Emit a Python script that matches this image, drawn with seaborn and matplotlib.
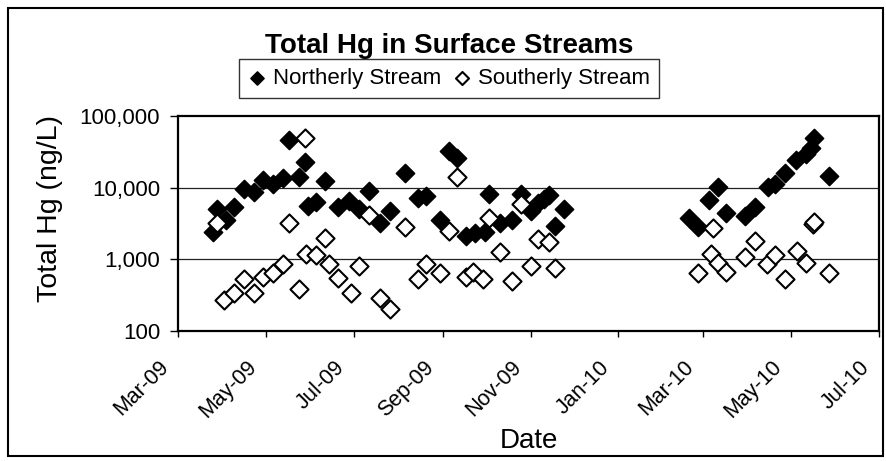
import matplotlib
matplotlib.use("Agg")
import matplotlib.pyplot as plt
import matplotlib.dates as mdates
from matplotlib.ticker import FixedLocator, FuncFormatter, NullLocator
from matplotlib.patches import Rectangle
from matplotlib.transforms import ScaledTranslation
import seaborn as sns
import pandas as pd

# Sampling dates and total mercury concentrations (ng/L)
north_dates = [
    "2009-03-25", "2009-03-28", "2009-04-03", "2009-04-09", "2009-04-16",
    "2009-04-23", "2009-04-29", "2009-05-06", "2009-05-13", "2009-05-17",
    "2009-05-24", "2009-05-28", "2009-05-30", "2009-06-05", "2009-06-11",
    "2009-06-20", "2009-06-28", "2009-07-05", "2009-07-12", "2009-07-19",
    "2009-07-26", "2009-08-06", "2009-08-15", "2009-08-20", "2009-08-30",
    "2009-09-05", "2009-09-11", "2009-09-17", "2009-09-23", "2009-09-30",
    "2009-10-03", "2009-10-11", "2009-10-19", "2009-10-25", "2009-11-01",
    "2009-11-06", "2009-11-10", "2009-11-14", "2009-11-18", "2009-11-24",
    "2010-02-19", "2010-02-25", "2010-03-05", "2010-03-11", "2010-03-17",
    "2010-03-30", "2010-04-06", "2010-04-15", "2010-04-20", "2010-04-27",
    "2010-05-04", "2010-05-11", "2010-05-15", "2010-05-17", "2010-05-27",
]
north_hg = [
    2400, 5000, 3500, 5400, 9700,
    8700, 13000, 11100, 13700, 46000,
    14200, 22700, 5500, 6300, 12200,
    5400, 6500, 5100, 9000, 3200,
    4700, 16100, 7200, 7600, 3500,
    32400, 25900, 2100, 2300, 2400,
    8100, 3200, 3500, 8200, 4700,
    6100, 6900, 8000, 2900, 5100,
    3800, 2800, 6800, 10100, 4500,
    4000, 5400, 10100, 11400, 16100,
    24500, 29600, 35700, 49600, 14500,
]

south_dates = [
    "2009-03-28", "2009-04-02", "2009-04-09", "2009-04-16", "2009-04-23",
    "2009-04-29", "2009-05-06", "2009-05-13", "2009-05-17", "2009-05-24",
    "2009-05-28", "2009-05-29", "2009-06-05", "2009-06-11", "2009-06-14",
    "2009-06-20", "2009-06-29", "2009-07-05", "2009-07-12", "2009-07-19",
    "2009-07-26", "2009-08-06", "2009-08-15", "2009-08-20", "2009-08-30",
    "2009-09-05", "2009-09-11", "2009-09-17", "2009-09-22", "2009-09-29",
    "2009-10-03", "2009-10-11", "2009-10-19", "2009-10-25", "2009-11-01",
    "2009-11-06", "2009-11-14", "2009-11-18",
    "2010-02-25", "2010-03-06", "2010-03-08", "2010-03-11", "2010-03-17",
    "2010-03-30", "2010-04-06", "2010-04-14", "2010-04-20", "2010-04-27",
    "2010-05-05", "2010-05-11", "2010-05-16", "2010-05-17", "2010-05-27",
]
south_hg = [
    3200, 270, 340, 540, 340,
    570, 640, 850, 3200, 380,
    49000, 1200, 1140, 2000, 850,
    550, 340, 810, 4200, 290,
    205, 2850, 530, 850, 640,
    2500, 14000, 560, 670, 530,
    3800, 1260, 500, 6000, 810,
    1900, 1740, 760,
    640, 1180, 2700, 900, 670,
    1090, 1800, 870, 1160, 530,
    1290, 900, 3100, 3300, 640,
]

series_names = ["Northerly Stream", "Southerly Stream"]
y_ticks = [100, 1000, 10000, 100000]
x_start, x_end = "2009-03-01", "2010-07-01"

north = pd.DataFrame({"date": pd.to_datetime(north_dates), "hg": north_hg})
south = pd.DataFrame({"date": pd.to_datetime(south_dates), "hg": south_hg})

sns.set_theme(style="white")
plt.rcParams["font.family"] = ["Liberation Sans", "DejaVu Sans"]
plt.rcParams.update({"text.color": "black", "axes.labelcolor": "black",
                     "xtick.color": "black", "ytick.color": "black"})

fig = plt.figure(figsize=(8.86, 4.61), dpi=100)
ax = fig.add_axes([178 / 886, 1 - 331 / 461, 701 / 886, 215 / 461])

marker_size = 85
sns.scatterplot(data=north, x="date", y="hg", ax=ax, marker="D", s=marker_size,
                color="black", edgecolor="black", linewidth=1.2, zorder=3,
                label=series_names[0], legend=False)
sns.scatterplot(data=south, x="date", y="hg", ax=ax, marker="D", s=marker_size,
                color="white", edgecolor="black", linewidth=1.5, zorder=3,
                label=series_names[1], legend=False)

ax.set_yscale("log")
ax.set_ylim(y_ticks[0], y_ticks[-1])
ax.yaxis.set_major_locator(FixedLocator(y_ticks))
ax.yaxis.set_minor_locator(NullLocator())
ax.yaxis.set_major_formatter(FuncFormatter(lambda v, _: f"{v:,.0f}"))
ax.set_xlim(pd.Timestamp(x_start), pd.Timestamp(x_end))
ax.xaxis.set_major_locator(mdates.MonthLocator(bymonth=[1, 3, 5, 7, 9, 11]))
ax.xaxis.set_major_formatter(mdates.DateFormatter("%b-%y"))

ax.grid(False)
for v in y_ticks[1:-1]:
    ax.axhline(v, color="#222222", linewidth=0.9, zorder=1)

for side in ax.spines.values():
    side.set_visible(True)
    side.set_color("black")
    side.set_linewidth(1.6)

ax.tick_params(axis="y", which="major", direction="out", length=5.8, width=1,
               labelsize=16, pad=7, left=True)
ax.tick_params(axis="x", which="major", direction="out", length=4.5, width=1,
               labelsize=15.5, pad=14, bottom=True)
# rotated date labels, nudged slightly left of their ticks
nudge = ScaledTranslation(-5 / 100, 0, fig.dpi_scale_trans)
for lab in ax.get_xticklabels():
    lab.set_rotation(45)
    lab.set_ha("right")
    lab.set_va("top")
    lab.set_transform(lab.get_transform() + nudge)

ax.set_xlabel("Date", fontsize=20, va="center")
ax.xaxis.set_label_coords(0.5, -(441 - 331) / 215)
ax.set_ylabel("Total Hg (ng/L)", fontsize=20.5, va="center")
ax.yaxis.set_label_coords(-(178 - 50) / 701, (331 - 209) / 215)

fig.text(449 / 886, 1 - 53 / 461, "Total Hg in Surface Streams", ha="center",
         va="baseline", fontsize=20, fontweight="bold")

handles = ax.collections[:2]
leg = fig.legend(handles, series_names, loc="center", ncol=2,
                 bbox_to_anchor=(449 / 886, 1 - 78.5 / 461), fontsize=16,
                 frameon=True, fancybox=False, edgecolor="black",
                 markerscale=0.72, handletextpad=0.34, columnspacing=0.52,
                 borderpad=0.4, handlelength=0.8, borderaxespad=0)
leg.get_frame().set_linewidth(1.0)

fig.patches.append(Rectangle((8 / 886, 5 / 461), 875 / 886, 448 / 461,
                             transform=fig.transFigure, fill=False,
                             edgecolor="black", linewidth=1.5))

fig.savefig("out.png", dpi=100)
